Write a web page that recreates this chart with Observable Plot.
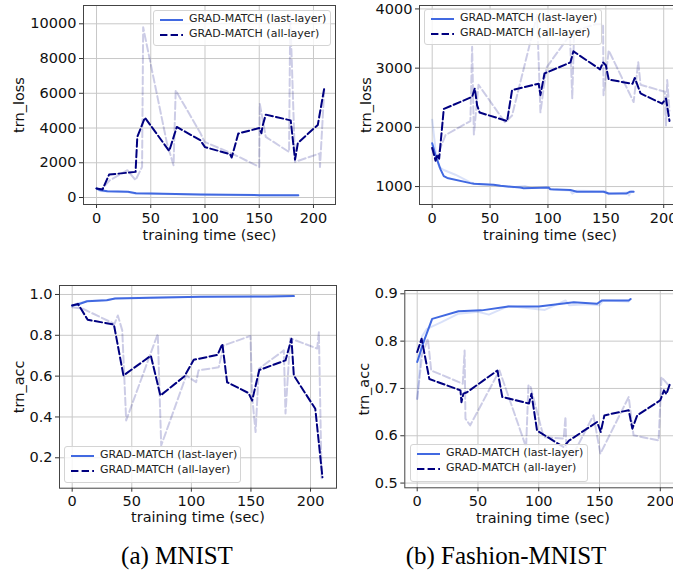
<!DOCTYPE html>
<html><head><meta charset="utf-8">
<script src="https://cdn.jsdelivr.net/npm/d3@7"></script>
<script src="https://cdn.jsdelivr.net/npm/@observablehq/plot@0.6"></script>
<style>
body{margin:0;background:#fff;}
#fig{position:relative;width:673px;height:573px;overflow:hidden;background:#fff;font-family:'DejaVu Sans',sans-serif;}
.panel{position:absolute;overflow:visible;}
.panel svg{max-width:none !important;display:block;}
.panel svg text{font-family:'DejaVu Sans',sans-serif;font-size:14.5px;fill:#111;}
.legend{position:absolute;background:rgba(255,255,255,0.8);border:1px solid #d4d4d4;border-radius:3px;box-sizing:border-box;}
.legend .txt{position:absolute;left:35px;font-family:'DejaVu Sans',sans-serif;font-size:11px;color:#222;white-space:nowrap;line-height:12px;}
.legend svg{position:absolute;left:0;top:0;}
.caption{position:absolute;font-family:'Liberation Serif','Times New Roman',serif;font-size:25px;color:#000;white-space:nowrap;transform:translateX(-50%);}
</style></head><body><div id="fig"></div>
<script>
// ---------- data: [training time (sec), value] ----------
const seriesNames = ["GRAD-MATCH (last-layer)", "GRAD-MATCH (all-layer)"];
const captions = ["(a) MNIST", "(b) Fashion-MNIST"];
const xTicks = [0, 50, 100, 150, 200];

// (a) MNIST trn_loss
const mnistLossLastSmooth = [[0,520],[4,420],[10,360],[29,330],[36.5,240],[50,225],[96,170],[150,135],[186,125]];
const mnistLossLastRaw = [[0,520],[3,380],[10,340],[29,320],[36,210],[50,215],[96,165],[150,130],[186,120]];
const mnistLossAllSmooth = [[0,517],[5.5,460],[11.6,1320],[36,1475],[37.6,3490],[44.6,4600],[67,2680],[74,4060],[95.6,3300],[100,2900],[123,2500],[124.6,2300],[130.7,3680],[150,4000],[152,3700],[153,4100],[156,4770],[179,4440],[183,2180],[185.6,3140],[204,4180],[210,6320]];
const mnistLossAllRaw = [[0,517],[4,430],[12,980],[28.5,1570],[36,1000],[42,1760],[43,9800],[65,3100],[71,1860],[73,6170],[96,3680],[99.6,3200],[125,2530],[150,1760],[150.5,5400],[156,3490],[177.5,2620],[178.6,10530],[183,2050],[205.5,2530],[206,1760],[210,6300]];
const mnistLossTicks = [0, 2000, 4000, 6000, 8000, 10000];

// (b) Fashion-MNIST trn_loss
const fmnistLossLastSmooth = [[0,1730],[2.9,1525],[7.2,1291],[10,1175],[13,1146],[33,1058],[36,1047],[53,1029],[59,1012],[76,983],[79,971],[100.7,983],[102,954],[119.4,942],[125,913],[148,913],[152.5,884],[168,884],[171,913],[174,913]];
const fmnistLossLastRaw = [[0,2130],[3,1600],[6,1330],[10,1280],[20,1200],[33,1070],[40,1040],[55,1020],[70,990],[80,1010],[85,975],[100,975],[105,945],[119,935],[121,880],[125,930],[150,920],[152,870],[168,900],[170,850],[172,920],[174,915]];
const fmnistLossAllSmooth = [[0,1653],[2.9,1437],[4.5,1540],[6,1470],[10,2310],[34.5,2515],[36.8,2660],[38.8,2370],[41,2250],[64.7,2107],[69,2630],[92,2736],[93.5,2544],[97,2910],[119.4,3097],[122,3284],[145,2980],[147.6,3097],[150,3050],[152.5,2806],[173,2736],[175,2835],[180,2573],[198.6,2400],[202,2486],[205,2107]];
const fmnistLossAllRaw = [[0,1653],[3,1450],[11.5,1870],[33,2107],[34.5,3360],[36,1880],[40,2720],[63,2080],[69,2200],[90.6,3900],[93.5,2253],[98.7,3010],[119,3560],[121,2490],[122.6,3620],[141,3740],[147.6,3740],[148,2544],[152.5,3300],[174,2427],[178,3100],[180,2720],[201,2600],[202,2020],[203,2800],[205,2280]];
const fmnistLossTicks = [1000, 2000, 3000, 4000];

// (a) MNIST trn_acc
const mnistAccLastSmooth = [[0,0.946],[4,0.95],[12.6,0.967],[29,0.972],[36,0.980],[66,0.984],[108,0.989],[164,0.990],[186,0.992]];
const mnistAccLastRaw = [[0,0.946],[4,0.955],[12.6,0.968],[29,0.973],[36,0.981],[66,0.985],[108,0.989],[164,0.989],[186,0.992]];
const mnistAccAllSmooth = [[0,0.946],[4.8,0.954],[13,0.876],[35,0.853],[43,0.603],[66,0.70],[74,0.505],[94,0.598],[102,0.68],[122,0.704],[126,0.758],[130,0.57],[148,0.517],[151,0.48],[157,0.63],[179,0.677],[184,0.783],[186,0.603],[204,0.44],[210,0.105]];
const mnistAccAllRaw = [[0,0.938],[8.9,0.93],[35.5,0.856],[38.3,0.897],[42,0.824],[45.3,0.383],[71.8,0.807],[74.7,0.26],[95.7,0.603],[104,0.57],[106,0.628],[123,0.644],[127,0.75],[149.6,0.797],[151,0.5],[153.9,0.326],[156.6,0.636],[177.6,0.726],[179,0.417],[183,0.785],[205.6,0.735],[207,0.815],[209.3,0.1]];
const mnistAccTicks = [0.2, 0.4, 0.6, 0.8, 1.0];

// (b) Fashion-MNIST trn_acc
const fmnistAccLastSmooth = [[0,0.756],[5.5,0.80],[12.3,0.847],[34,0.863],[53,0.865],[75,0.873],[93,0.873],[100,0.873],[128.8,0.882],[148,0.879],[152,0.886],[174,0.886],[175.6,0.889]];
const fmnistAccLastRaw = [[0,0.678],[4,0.81],[8,0.826],[20,0.84],[34,0.858],[50,0.862],[59,0.856],[75,0.874],[90,0.87],[105,0.866],[122,0.886],[125,0.876],[140,0.878],[150,0.876],[153,0.886],[174,0.884],[175.6,0.889]];
const fmnistAccAllSmooth = [[0,0.777],[3.6,0.805],[10,0.72],[35.6,0.696],[36.4,0.671],[38,0.689],[41,0.692],[66,0.738],[70,0.682],[92,0.668],[94,0.689],[98.6,0.611],[120.5,0.576],[125,0.590],[148,0.629],[151,0.608],[154,0.643],[174,0.654],[177,0.615],[181,0.643],[200,0.675],[203,0.696],[205,0.688],[208,0.710]];
const fmnistAccAllRaw = [[0,0.678],[4,0.77],[8.8,0.805],[11.5,0.738],[37.5,0.71],[39,0.78],[39.7,0.636],[43.6,0.622],[67.7,0.738],[89.6,0.576],[91.5,0.706],[93,0.706],[104,0.597],[120.5,0.594],[122,0.64],[123,0.534],[145,0.643],[150.7,0.562],[174,0.682],[178,0.601],[198.6,0.59],[201,0.724],[207,0.706]];
const fmnistAccTicks = [0.5, 0.6, 0.7, 0.8, 0.9];

// ---------- styles ----------
const LAST = "#4169e1", ALL = "#000080", DASH = "7.4,3.2";
const FONT = "DejaVu Sans";

const panels = [
  {left:0, top:0, width:340, height:250, m:[5,5,46,83], x:[-12,220.3], y:[-403,11054], yTicks:mnistLossTicks, fmt:d=>String(d), label:"trn_loss", ylo:70, xlo:35,
   data:[mnistLossLastRaw, mnistLossAllRaw, mnistLossLastSmooth, mnistLossAllSmooth], legend:{left:153, top:10, width:178, height:36}},
  {left:336, top:0, width:350, height:250, m:[5,6,46,83], x:[-10.97,214.5], y:[697,4058], yTicks:fmnistLossTicks, fmt:d=>String(d), label:"trn_loss", ylo:59, xlo:35,
   data:[fmnistLossLastRaw, fmnistLossAllRaw, fmnistLossLastSmooth, fmnistLossAllSmooth], legend:{left:424, top:9, width:178, height:36}},
  {left:0, top:260, width:340, height:270, m:[25,4,42.3,59], x:[-10.66,221.8], y:[0.051,1.044], yTicks:mnistAccTicks, fmt:d3.format(".1f"), label:"trn_acc", ylo:46, xlo:34,
   data:[mnistAccLastRaw, mnistAccAllRaw, mnistAccLastSmooth, mnistAccAllSmooth], legend:{left:64, top:446, width:177, height:37}},
  {left:336, top:260, width:350, height:270, m:[30,5.3,42.7,68.3], x:[-10.2,217.2], y:[0.49,0.907], yTicks:fmnistAccTicks, fmt:d3.format(".1f"), label:"trn_acc", ylo:46, xlo:35,
   data:[fmnistAccLastRaw, fmnistAccAllRaw, fmnistAccLastSmooth, fmnistAccAllSmooth], legend:{left:410, top:444, width:178, height:38}}
];

const fig = document.getElementById("fig");

for (const p of panels) {
  const [lastRaw, allRaw, lastSm, allSm] = p.data;
  const lineOpts = {x: d => d[0], y: d => d[1], clip: true, strokeWidth: 2, strokeLinejoin: "round"};
  const chart = Plot.plot({
    width: p.width, height: p.height,
    marginTop: p.m[0], marginRight: p.m[1], marginBottom: p.m[2], marginLeft: p.m[3],
    style: {fontFamily: FONT, fontSize: "14.5px", color: "#111", background: "transparent", overflow: "visible", maxWidth: "none"},
    x: {domain: p.x},
    y: {domain: p.y},
    marks: [
      Plot.gridX(xTicks, {stroke: "#c8c8c8", strokeOpacity: 1, strokeWidth: 1}),
      Plot.gridY(p.yTicks, {stroke: "#c8c8c8", strokeOpacity: 1, strokeWidth: 1}),
      Plot.line(lastRaw, {...lineOpts, stroke: LAST, strokeOpacity: 0.2}),
      Plot.line(allRaw, {...lineOpts, stroke: ALL, strokeOpacity: 0.2, strokeDasharray: DASH}),
      Plot.line(lastSm, {...lineOpts, stroke: LAST}),
      Plot.line(allSm, {...lineOpts, stroke: ALL, strokeDasharray: DASH}),
      Plot.axisX({ticks: xTicks, tickSize: 4, tickPadding: 4, stroke: "#333", label: "training time (sec)", labelAnchor: "center", labelArrow: "none", labelOffset: p.xlo, fontSize: 14.5}),
      Plot.axisY({ticks: p.yTicks, tickFormat: p.fmt, tickSize: 4, tickPadding: 3, stroke: "#333", label: p.label, labelAnchor: "center", labelArrow: "none", labelOffset: p.ylo, fontSize: 14.5}),
      Plot.frame({stroke: "#444", strokeWidth: 1})
    ]
  });
  const wrap = document.createElement("div");
  wrap.className = "panel";
  wrap.style.left = p.left + "px";
  wrap.style.top = p.top + "px";
  wrap.style.width = p.width + "px";
  wrap.style.height = p.height + "px";
  wrap.appendChild(chart);
  fig.appendChild(wrap);

  // legend overlay
  const L = p.legend;
  const lg = document.createElement("div");
  lg.className = "legend";
  Object.assign(lg.style, {left: L.left + "px", top: L.top + "px", width: L.width + "px", height: L.height + "px"});
  const rowY = [9, 24];
  const ns = "http://www.w3.org/2000/svg";
  const sv = document.createElementNS(ns, "svg");
  sv.setAttribute("width", 34); sv.setAttribute("height", L.height);
  seriesNames.forEach((name, i) => {
    const ln = document.createElementNS(ns, "line");
    ln.setAttribute("x1", 6); ln.setAttribute("x2", 29);
    ln.setAttribute("y1", rowY[i]); ln.setAttribute("y2", rowY[i]);
    ln.setAttribute("stroke", i === 0 ? LAST : ALL);
    ln.setAttribute("stroke-width", 2);
    if (i === 1) ln.setAttribute("stroke-dasharray", DASH);
    sv.appendChild(ln);
    const t = document.createElement("div");
    t.className = "txt";
    t.style.top = (rowY[i] - 7) + "px";
    t.textContent = name;
    lg.appendChild(t);
  });
  lg.appendChild(sv);
  fig.appendChild(lg);
}

captions.forEach((c, i) => {
  const d = document.createElement("div");
  d.className = "caption";
  d.style.left = (i === 0 ? 177 : 506) + "px";
  d.style.top = "542px";
  d.textContent = c;
  fig.appendChild(d);
});
</script></body></html>
